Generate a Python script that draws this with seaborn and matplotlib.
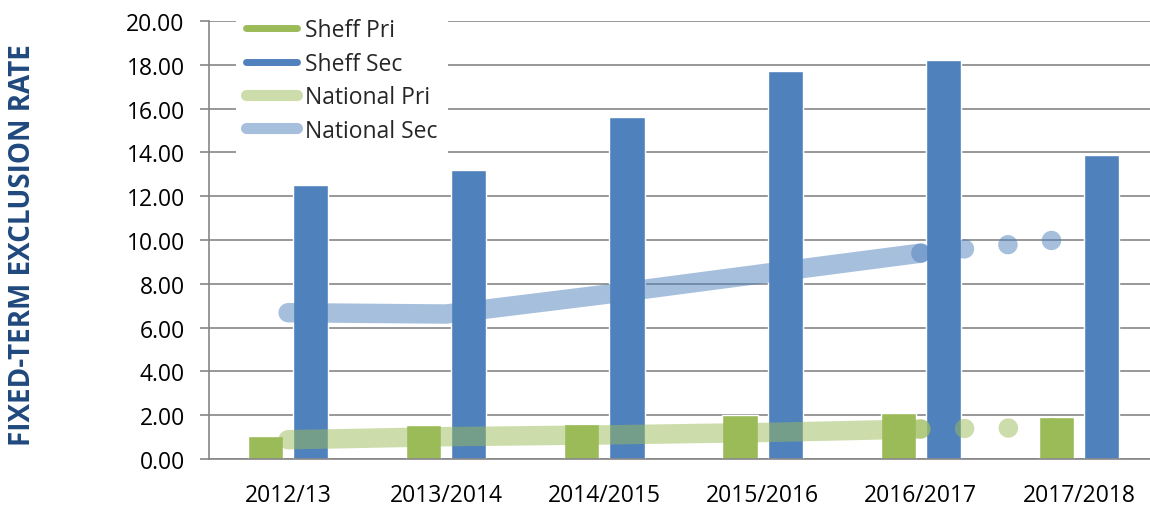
import numpy as np
import pandas as pd
import seaborn as sns
import matplotlib.pyplot as plt
from matplotlib.lines import Line2D
from matplotlib.ticker import FormatStrFormatter, MultipleLocator

years = ['2012/13', '2013/2014', '2014/2015', '2015/2016', '2016/2017', '2017/2018']
sheff_pri = [1.05, 1.55, 1.6, 2.0, 2.1, 1.9]
sheff_sec = [12.5, 13.2, 15.6, 17.7, 18.2, 13.9]
national_pri = [0.88, 1.02, 1.10, 1.21, 1.37, 1.45]
national_sec = [6.68, 6.62, 7.51, 8.46, 9.40, 10.1]

green = '#9BBB59'
blue = '#4F81BD'
grey = '#868686'

sns.set_theme(style="white")
plt.rcParams['font.family'] = ['Open Sans', 'DejaVu Sans']

bars = pd.DataFrame({
    'Year': years * 2,
    'Rate': sheff_pri + sheff_sec,
    'Series': ['Sheff Pri'] * len(years) + ['Sheff Sec'] * len(years),
})

fig = plt.figure(figsize=(11.5, 5.06), dpi=100)
ax = fig.add_axes([209 / 1150, 46 / 506, 949 / 1150, 438 / 506])

sns.barplot(data=bars, x='Year', y='Rate', hue='Series', palette=[green, blue],
            width=0.57, gap=0.22, saturation=1, errorbar=None, legend=False,
            ax=ax, zorder=2)

# national lines: solid up to 2016/17, dotted for the last year
pos = np.arange(len(years))
for vals, col in [(national_pri, green), (national_sec, blue)]:
    sns.lineplot(x=pos[:5], y=vals[:5], color=col, lw=14, alpha=0.5,
                 solid_capstyle='round', ax=ax, zorder=3)
    sns.lineplot(x=pos[4:], y=vals[4:], color=col, lw=14, alpha=0.5,
                 linestyle=(0, (0.01, 2.24)), dash_capstyle='round', ax=ax, zorder=3)

ax.set_xlim(-0.5, len(years) - 0.5)
ax.set_ylim(0, 20)
ax.yaxis.set_major_locator(MultipleLocator(2))
ax.yaxis.set_major_formatter(FormatStrFormatter('%.2f'))
ax.set_xticks(pos)
ax.set_xticklabels(years)
ax.set_xticks(np.arange(-0.5, len(years), 1), minor=True)
ax.tick_params(axis='x', which='major', length=0, pad=17, labelsize=16.5, colors='black')
ax.tick_params(axis='x', which='minor', length=6, width=1.2, color=grey, direction='out')
ax.tick_params(axis='y', length=6.5, width=1.2, color=grey, direction='out', pad=11,
               labelsize=16.5, labelcolor='black', left=True)
ax.grid(axis='y', color=grey, lw=1.2)
ax.set_axisbelow(True)
ax.set_xlabel('')
ax.set_ylabel('')
sns.despine(ax=ax)
for s in ['left', 'bottom']:
    ax.spines[s].set_color(grey)
    ax.spines[s].set_linewidth(1.2)

fig.text(23 / 1150, 261 / 506, 'FIXED-TERM EXCLUSION RATE', rotation=90,
         ha='center', va='center', fontsize=20, fontweight='bold', color='#1F497D')

handles = [Line2D([], [], color=green, lw=5),
           Line2D([], [], color=blue, lw=5),
           Line2D([], [], color=green, lw=8, alpha=0.5, solid_capstyle='round'),
           Line2D([], [], color=blue, lw=8, alpha=0.5, solid_capstyle='round')]
labels = ['Sheff Pri', 'Sheff Sec', 'National Pri', 'National Sec']
leg = fig.legend(handles, labels, loc='upper left', bbox_to_anchor=(236 / 1150, 1 - 9 / 506),
                 frameon=True, facecolor='white', edgecolor='none', framealpha=1,
                 fancybox=False, fontsize=16.5, handlelength=2.2, handletextpad=0.35,
                 labelspacing=0.41, borderpad=0.45, borderaxespad=0)

fig.savefig('out.png', dpi=100)
